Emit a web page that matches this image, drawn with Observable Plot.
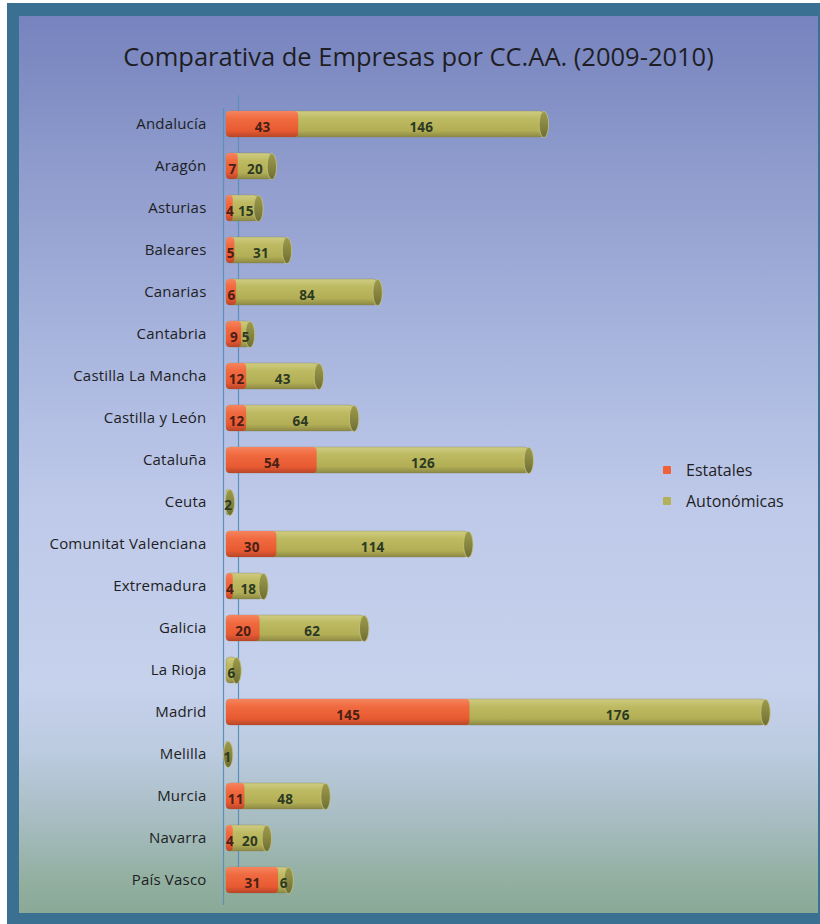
<!DOCTYPE html>
<html>
<head>
<meta charset="utf-8">
<script src="https://cdn.jsdelivr.net/npm/d3@7"></script>
<script src="https://cdn.jsdelivr.net/npm/@observablehq/plot@0.6"></script>
<style>
  html, body { margin: 0; padding: 0; background: #fff; overflow: hidden; }
  #wrap { position: relative; width: 820px; height: 924px; overflow: hidden; background: #fff; font-family: "Open Sans", sans-serif; }
  #frame { position: absolute; left: 7px; top: 3px; right: 0; bottom: 0; background: #3a7092; }
  #panel { position: absolute; left: 19px; top: 16px; width: 799px; height: 897px;
    background: linear-gradient(to bottom, #7683be 0%, #8c99cb 15%, #a6b3dc 35%, #bfcaea 55%, #c6d1ec 75%, #bccbe0 82%, #a6bcc0 90%, #93b0a2 96%, #8aa996 100%); }
  #title { position: absolute; left: 19px; width: 799px; top: 39px; text-align: center; font-size: 25.5px; line-height: 34px; color: #1e1e24; }
  #chart { position: absolute; left: 0; top: 80px; }
  #legend { position: absolute; left: 663px; top: 454px; font-size: 16px; color: #1e1e24; }
  #legend .row { display: flex; align-items: center; height: 31px; }
  #legend .sw { width: 8px; height: 8px; margin-right: 15px; border-radius: 1px; filter: blur(0.6px); }
</style>
</head>
<body>
<div id="wrap">
  <div id="frame"></div>
  <div id="panel"></div>
  <div id="title">Comparativa de Empresas por CC.AA. (2009-2010)</div>
  <div id="chart"></div>
  <div id="legend"></div>
</div>
<script>
const regions = ["Andalucía","Aragón","Asturias","Baleares","Canarias","Cantabria","Castilla La Mancha","Castilla y León","Cataluña","Ceuta","Comunitat Valenciana","Extremadura","Galicia","La Rioja","Madrid","Melilla","Murcia","Navarra","País Vasco"];
const estatales = [43,7,4,5,6,9,12,12,54,0,30,4,20,0,145,0,11,4,31];
const autonomicas = [146,20,15,31,84,5,43,64,126,2,114,18,62,6,176,1,48,20,6];
const seriesNames = ["Estatales","Autonómicas"];
const seriesColors = ["#ef6138","#b2b058"];

const data = regions.map((r, i) => ({region: r, est: estatales[i], aut: autonomicas[i], total: estatales[i] + autonomicas[i]}));

const ellipse = {
  draw(ctx, size) {
    const r = Math.sqrt(size / Math.PI);
    const ry = r, rx = r * 0.36, k = 0.5523;
    ctx.moveTo(0, -ry);
    ctx.bezierCurveTo(k*rx, -ry, rx, -k*ry, rx, 0);
    ctx.bezierCurveTo(rx, k*ry, k*rx, ry, 0, ry);
    ctx.bezierCurveTo(-k*rx, ry, -rx, k*ry, -rx, 0);
    ctx.bezierCurveTo(-rx, -k*ry, -k*rx, -ry, 0, -ry);
    ctx.closePath();
  }
};

const chart = Plot.plot({
  width: 820,
  height: 840,
  marginLeft: 226,
  marginRight: 55,
  marginTop: 15,
  marginBottom: 10,
  style: { background: "transparent", fontFamily: "'Open Sans', sans-serif", fontSize: "15px", color: "#1e1e24", letterSpacing: "0.2px" },
  x: { domain: [0, 321], axis: null },
  y: { domain: regions, padding: 0.38, label: null, tickSize: 0, tickPadding: 20 },
  marks: [
    Plot.ruleX([0], { dx: -3, insetTop: 13, insetBottom: 5, stroke: "#5d8fb8", strokeWidth: 1.2 }),
    Plot.ruleX([0], { dx: 12, insetTop: 0, insetBottom: 20, stroke: "#5d8fb8", strokeWidth: 1.2 }),
    Plot.barX(data, { x: "total", y: "region", fill: "url(#gOli)", rx: 4, stroke: "#7f7a50", strokeOpacity: 0.35 }),
    Plot.barX(data.filter(d => d.est > 0), { x: "est", y: "region", fill: "url(#gRed)", rx: 4 }),
    Plot.dot(data, { x: "total", y: "region", symbol: ellipse, r: 13, fill: "url(#gCap)", stroke: "#c9c47c", strokeWidth: 0.8 }),
    Plot.text(data.filter(d => d.est > 0), { x: d => d.est / 2, y: "region", text: "est", dy: 3, fill: "#4a2016", fontWeight: "bold", fontSize: 13.5, fontFamily: "'Open Sans', sans-serif" }),
    Plot.text(data, { x: d => d.est + d.aut / 2, y: "region", text: "aut", dy: 3, fill: "#2c3a22", fontWeight: "bold", fontSize: 13.5, fontFamily: "'Open Sans', sans-serif" })
  ]
});

const ns = "http://www.w3.org/2000/svg";
const defs = document.createElementNS(ns, "defs");
function grad(id, stops) {
  const g = document.createElementNS(ns, "linearGradient");
  g.setAttribute("id", id);
  g.setAttribute("x1", "0"); g.setAttribute("y1", "0");
  g.setAttribute("x2", "0"); g.setAttribute("y2", "1");
  stops.forEach(([o, c]) => {
    const s = document.createElementNS(ns, "stop");
    s.setAttribute("offset", o); s.setAttribute("stop-color", c);
    g.appendChild(s);
  });
  defs.appendChild(g);
}
grad("gRed", [["0", "#f6845e"], ["0.3", "#f06a40"], ["0.75", "#e85a32"], ["1", "#b8462a"]]);
grad("gOli", [["0", "#cfcc82"], ["0.3", "#bdba62"], ["0.75", "#b2ae56"], ["1", "#8c8a44"]]);
grad("gCap", [["0", "#9c9a4a"], ["0.5", "#878640"], ["1", "#6f6e34"]]);
chart.insertBefore(defs, chart.firstChild);
document.getElementById("chart").appendChild(chart);

const legend = document.getElementById("legend");
seriesNames.forEach((n, i) => {
  const row = document.createElement("div");
  row.className = "row";
  const sw = document.createElement("div");
  sw.className = "sw";
  sw.style.background = seriesColors[i];
  const t = document.createElement("span");
  t.textContent = n;
  row.appendChild(sw); row.appendChild(t);
  legend.appendChild(row);
});
</script>
</body>
</html>
